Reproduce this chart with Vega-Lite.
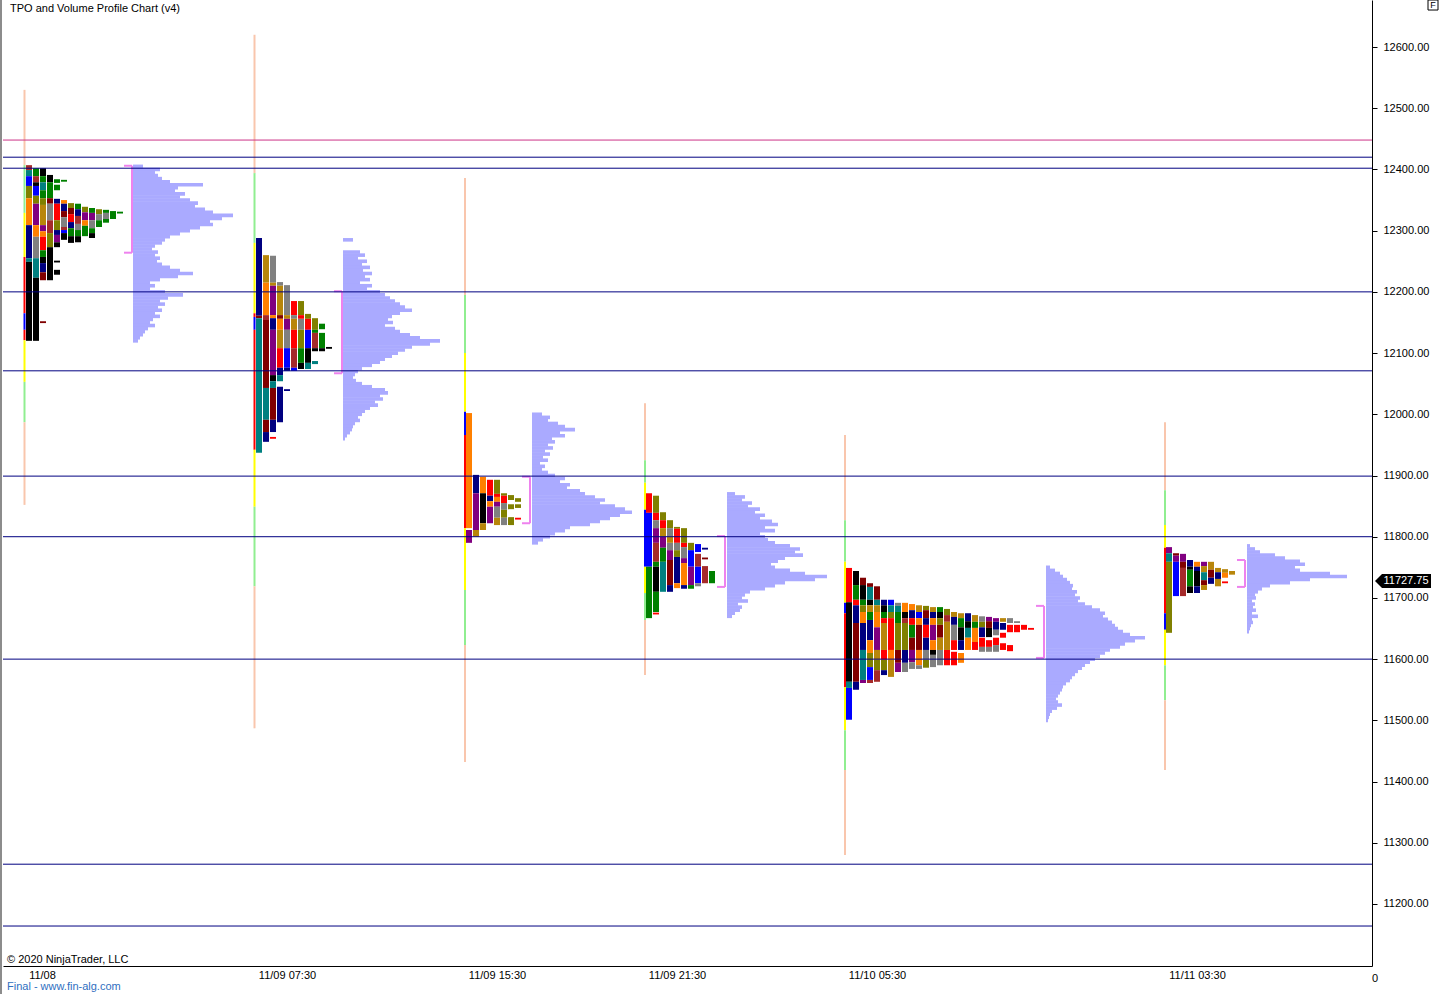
{
"$schema": "https://vega.github.io/schema/vega-lite/v6.json",
"width": 1369, "height": 966,
"autosize": "none",
"padding": {"left": 3, "top": 0, "right": 69, "bottom": 28},
"background": "#ffffff",
"config": {"view": {"stroke": null}, "font": "Liberation Sans", "scale": {"continuousPadding": 0}},
"resolve": {"scale": {"x": "independent"}},
"datasets": {
"levels": [
{"p":12448,"k":"Q"},{"p":12420,"k":"B"},{"p":12402,"k":"B"},{"p":12200,"k":"B"},{"p":12071,"k":"B"},{"p":11899,"k":"B"},{"p":11800,"k":"B"},{"p":11600,"k":"B"},{"p":11265,"k":"B"},{"p":11164,"k":"B"}
],
"rng": [
{"t":21.5,"p":12530,"p2":12407,"k":"P"},{"t":21.5,"p":12407,"p2":12329,"k":"O"},{"t":21.5,"p":12329,"p2":12257,"k":"N"},{"t":21.5,"p":12257,"p2":12165,"k":"I"},{"t":21.5,"p":12165,"p2":12138,"k":"C"},{"t":21.5,"p":12138,"p2":12121,"k":"I"},{"t":21.5,"p":12121,"p2":12053,"k":"N"},{"t":21.5,"p":12053,"p2":11987,"k":"O"},{"t":21.5,"p":11987,"p2":11852,"k":"P"},
{"t":251.5,"p":12620,"p2":12394,"k":"P"},{"t":251.5,"p":12394,"p2":12280,"k":"O"},{"t":251.5,"p":12280,"p2":12165,"k":"N"},{"t":251.5,"p":12165,"p2":12159,"k":"I"},{"t":251.5,"p":12159,"p2":12138,"k":"C"},{"t":251.5,"p":12138,"p2":11942,"k":"I"},{"t":251.5,"p":11942,"p2":11849,"k":"N"},{"t":251.5,"p":11849,"p2":11719,"k":"O"},{"t":251.5,"p":11719,"p2":11487,"k":"P"},
{"t":462,"p":12386,"p2":12195,"k":"P"},{"t":462,"p":12195,"p2":12100,"k":"O"},{"t":462,"p":12100,"p2":12004,"k":"N"},{"t":462,"p":12004,"p2":11966,"k":"C"},{"t":462,"p":11966,"p2":11814,"k":"I"},{"t":462,"p":11814,"p2":11713,"k":"N"},{"t":462,"p":11713,"p2":11623,"k":"O"},{"t":462,"p":11623,"p2":11432,"k":"P"},
{"t":642,"p":12018,"p2":11925,"k":"P"},{"t":642,"p":11925,"p2":11888,"k":"O"},{"t":642,"p":11888,"p2":11844,"k":"N"},{"t":642,"p":11844,"p2":11751,"k":"C"},{"t":642,"p":11751,"p2":11708,"k":"N"},{"t":642,"p":11708,"p2":11664,"k":"O"},{"t":642,"p":11664,"p2":11574,"k":"P"},
{"t":842,"p":11966,"p2":11827,"k":"P"},{"t":842,"p":11827,"p2":11759,"k":"O"},{"t":842,"p":11759,"p2":11692,"k":"N"},{"t":842,"p":11692,"p2":11675,"k":"C"},{"t":842,"p":11675,"p2":11554,"k":"I"},{"t":842,"p":11554,"p2":11484,"k":"N"},{"t":842,"p":11484,"p2":11419,"k":"O"},{"t":842,"p":11419,"p2":11280,"k":"P"},
{"t":1162,"p":11987,"p2":11876,"k":"P"},{"t":1162,"p":11876,"p2":11819,"k":"O"},{"t":1162,"p":11819,"p2":11782,"k":"N"},{"t":1162,"p":11782,"p2":11675,"k":"I"},{"t":1162,"p":11675,"p2":11648,"k":"C"},{"t":1162,"p":11648,"p2":11590,"k":"N"},{"t":1162,"p":11590,"p2":11533,"k":"O"},{"t":1162,"p":11533,"p2":11419,"k":"P"}
],
"tpo": [
{"t":26,"p":12407,"p2":12399,"k":"J"},{"t":26,"p":12399,"p2":12389,"k":"D"},{"t":26,"p":12389,"p2":12373,"k":"C"},{"t":26,"p":12373,"p2":12353,"k":"F"},{"t":26,"p":12353,"p2":12309,"k":"H"},{"t":26,"p":12309,"p2":12255,"k":"B"},{"t":26,"p":12255,"p2":12249,"k":"D"},{"t":26,"p":12249,"p2":12120,"k":"A"},
{"t":33,"p":12402,"p2":12389,"k":"E"},{"t":33,"p":12389,"p2":12379,"k":"J"},{"t":33,"p":12379,"p2":12373,"k":"A"},{"t":33,"p":12373,"p2":12357,"k":"C"},{"t":33,"p":12357,"p2":12344,"k":"F"},{"t":33,"p":12344,"p2":12309,"k":"L"},{"t":33,"p":12309,"p2":12290,"k":"H"},{"t":33,"p":12290,"p2":12255,"k":"M"},{"t":33,"p":12255,"p2":12223,"k":"D"},{"t":33,"p":12223,"p2":12120,"k":"A"},
{"t":40,"p":12402,"p2":12389,"k":"A"},{"t":40,"p":12389,"p2":12379,"k":"E"},{"t":40,"p":12379,"p2":12366,"k":"D"},{"t":40,"p":12366,"p2":12353,"k":"E"},{"t":40,"p":12353,"p2":12342,"k":"F"},{"t":40,"p":12342,"p2":12309,"k":"G"},{"t":40,"p":12309,"p2":12299,"k":"L"},{"t":40,"p":12299,"p2":12290,"k":"H"},{"t":40,"p":12290,"p2":12268,"k":"I"},{"t":40,"p":12268,"p2":12257,"k":"E"},{"t":40,"p":12257,"p2":12247,"k":"A"},{"t":40,"p":12247,"p2":12232,"k":"B"},{"t":40,"p":12232,"p2":12219,"k":"K"},{"t":40,"p":12152,"p2":12149,"k":"K"},
{"t":47,"p":12391,"p2":12379,"k":"A"},{"t":47,"p":12379,"p2":12353,"k":"E"},{"t":47,"p":12353,"p2":12344,"k":"K"},{"t":47,"p":12344,"p2":12317,"k":"M"},{"t":47,"p":12317,"p2":12296,"k":"J"},{"t":47,"p":12296,"p2":12273,"k":"F"},{"t":47,"p":12273,"p2":12219,"k":"A"},
{"t":54,"p":12384,"p2":12378,"k":"E"},{"t":54,"p":12375,"p2":12366,"k":"E"},{"t":54,"p":12352,"p2":12344,"k":"B"},{"t":54,"p":12344,"p2":12317,"k":"I"},{"t":54,"p":12317,"p2":12301,"k":"F"},{"t":54,"p":12301,"p2":12293,"k":"B"},{"t":54,"p":12293,"p2":12281,"k":"L"},{"t":54,"p":12281,"p2":12273,"k":"A"},{"t":54,"p":12251,"p2":12248,"k":"A"},{"t":54,"p":12236,"p2":12228,"k":"A"},
{"t":61,"p":12383,"p2":12380,"k":"E"},{"t":61,"p":12350,"p2":12344,"k":"H"},{"t":61,"p":12344,"p2":12332,"k":"B"},{"t":61,"p":12332,"p2":12322,"k":"K"},{"t":61,"p":12322,"p2":12306,"k":"M"},{"t":61,"p":12306,"p2":12301,"k":"J"},{"t":61,"p":12301,"p2":12296,"k":"C"},{"t":61,"p":12296,"p2":12285,"k":"A"},
{"t":68,"p":12345,"p2":12337,"k":"F"},{"t":68,"p":12337,"p2":12327,"k":"K"},{"t":68,"p":12327,"p2":12314,"k":"I"},{"t":68,"p":12314,"p2":12304,"k":"B"},{"t":68,"p":12304,"p2":12291,"k":"E"},{"t":68,"p":12291,"p2":12280,"k":"A"},
{"t":75,"p":12344,"p2":12335,"k":"E"},{"t":75,"p":12335,"p2":12324,"k":"B"},{"t":75,"p":12324,"p2":12311,"k":"J"},{"t":75,"p":12311,"p2":12301,"k":"M"},{"t":75,"p":12301,"p2":12291,"k":"E"},{"t":75,"p":12291,"p2":12281,"k":"A"},
{"t":82,"p":12339,"p2":12330,"k":"F"},{"t":82,"p":12330,"p2":12317,"k":"L"},{"t":82,"p":12317,"p2":12308,"k":"H"},{"t":82,"p":12308,"p2":12291,"k":"E"},
{"t":89,"p":12337,"p2":12329,"k":"E"},{"t":89,"p":12329,"p2":12317,"k":"L"},{"t":89,"p":12317,"p2":12304,"k":"M"},{"t":89,"p":12304,"p2":12296,"k":"E"},{"t":89,"p":12296,"p2":12288,"k":"A"},
{"t":96,"p":12335,"p2":12327,"k":"F"},{"t":96,"p":12327,"p2":12317,"k":"M"},{"t":96,"p":12317,"p2":12306,"k":"E"},
{"t":103,"p":12334,"p2":12329,"k":"E"},{"t":103,"p":12329,"p2":12319,"k":"M"},{"t":103,"p":12319,"p2":12313,"k":"E"},
{"t":110,"p":12332,"p2":12319,"k":"E"},{"t":117,"p":12331,"p2":12328,"k":"E"},
{"t":256,"p":12288,"p2":12161,"k":"B"},{"t":256,"p":12161,"p2":12157,"k":"K"},{"t":256,"p":12157,"p2":11937,"k":"D"},
{"t":263,"p":12260,"p2":12215,"k":"G"},{"t":263,"p":12215,"p2":12162,"k":"H"},{"t":263,"p":12162,"p2":12154,"k":"J"},{"t":263,"p":12154,"p2":12043,"k":"K"},{"t":263,"p":12043,"p2":11991,"k":"D"},{"t":263,"p":11991,"p2":11971,"k":"K"},{"t":263,"p":11971,"p2":11955,"k":"B"},
{"t":270,"p":12259,"p2":12215,"k":"M"},{"t":270,"p":12215,"p2":12210,"k":"G"},{"t":270,"p":12210,"p2":12162,"k":"L"},{"t":270,"p":12162,"p2":12157,"k":"H"},{"t":270,"p":12157,"p2":12138,"k":"B"},{"t":270,"p":12138,"p2":12064,"k":"L"},{"t":270,"p":12064,"p2":12054,"k":"A"},{"t":270,"p":12054,"p2":12043,"k":"D"},{"t":270,"p":12043,"p2":11991,"k":"K"},{"t":270,"p":11991,"p2":11971,"k":"B"},{"t":270,"p":11963,"p2":11960,"k":"I"},
{"t":277,"p":12216,"p2":12210,"k":"M"},{"t":277,"p":12210,"p2":12162,"k":"G"},{"t":277,"p":12162,"p2":12156,"k":"K"},{"t":277,"p":12156,"p2":12138,"k":"H"},{"t":277,"p":12138,"p2":12108,"k":"G"},{"t":277,"p":12108,"p2":12076,"k":"I"},{"t":277,"p":12076,"p2":12064,"k":"B"},{"t":277,"p":12064,"p2":12054,"k":"D"},{"t":277,"p":12045,"p2":11987,"k":"B"},
{"t":284,"p":12211,"p2":12162,"k":"M"},{"t":284,"p":12162,"p2":12156,"k":"G"},{"t":284,"p":12156,"p2":12138,"k":"L"},{"t":284,"p":12138,"p2":12108,"k":"M"},{"t":284,"p":12108,"p2":12076,"k":"C"},{"t":284,"p":12076,"p2":12071,"k":"B"},{"t":284,"p":12041,"p2":12038,"k":"B"},
{"t":291,"p":12185,"p2":12162,"k":"I"},{"t":291,"p":12162,"p2":12156,"k":"M"},{"t":291,"p":12156,"p2":12138,"k":"G"},{"t":291,"p":12138,"p2":12108,"k":"I"},{"t":291,"p":12108,"p2":12076,"k":"J"},{"t":291,"p":12076,"p2":12071,"k":"C"},
{"t":298,"p":12185,"p2":12162,"k":"F"},{"t":298,"p":12162,"p2":12156,"k":"I"},{"t":298,"p":12156,"p2":12138,"k":"M"},{"t":298,"p":12138,"p2":12108,"k":"F"},{"t":298,"p":12108,"p2":12084,"k":"E"},{"t":298,"p":12084,"p2":12074,"k":"A"},
{"t":305,"p":12164,"p2":12156,"k":"F"},{"t":305,"p":12156,"p2":12138,"k":"I"},{"t":305,"p":12138,"p2":12108,"k":"C"},{"t":305,"p":12108,"p2":12084,"k":"A"},{"t":305,"p":12084,"p2":12074,"k":"D"},
{"t":312,"p":12157,"p2":12138,"k":"F"},{"t":312,"p":12138,"p2":12133,"k":"E"},{"t":312,"p":12133,"p2":12108,"k":"J"},{"t":312,"p":12108,"p2":12103,"k":"A"},{"t":312,"p":12087,"p2":12082,"k":"D"},
{"t":319,"p":12148,"p2":12139,"k":"E"},{"t":319,"p":12133,"p2":12108,"k":"E"},{"t":319,"p":12108,"p2":12103,"k":"A"},
{"t":326,"p":12110,"p2":12107,"k":"A"},
{"t":466,"p":12002,"p2":11814,"k":"H"},{"t":466,"p":11811,"p2":11790,"k":"L"},
{"t":473,"p":11901,"p2":11871,"k":"B"},{"t":473,"p":11871,"p2":11811,"k":"L"},{"t":473,"p":11811,"p2":11800,"k":"G"},
{"t":480,"p":11898,"p2":11871,"k":"H"},{"t":480,"p":11871,"p2":11822,"k":"A"},{"t":480,"p":11822,"p2":11811,"k":"G"},
{"t":487,"p":11893,"p2":11867,"k":"I"},{"t":487,"p":11867,"p2":11858,"k":"B"},{"t":487,"p":11858,"p2":11849,"k":"H"},{"t":487,"p":11849,"p2":11822,"k":"L"},
{"t":494,"p":11893,"p2":11870,"k":"F"},{"t":494,"p":11870,"p2":11865,"k":"I"},{"t":494,"p":11865,"p2":11857,"k":"H"},{"t":494,"p":11857,"p2":11849,"k":"L"},{"t":494,"p":11849,"p2":11831,"k":"M"},{"t":494,"p":11831,"p2":11819,"k":"G"},
{"t":501,"p":11871,"p2":11867,"k":"F"},{"t":501,"p":11867,"p2":11855,"k":"I"},{"t":501,"p":11855,"p2":11844,"k":"M"},{"t":501,"p":11844,"p2":11831,"k":"F"},{"t":501,"p":11831,"p2":11819,"k":"M"},
{"t":508,"p":11868,"p2":11860,"k":"F"},{"t":508,"p":11853,"p2":11845,"k":"F"},{"t":508,"p":11832,"p2":11819,"k":"F"},
{"t":515,"p":11863,"p2":11857,"k":"F"},{"t":515,"p":11853,"p2":11847,"k":"F"},{"t":515,"p":11831,"p2":11828,"k":"I"},
{"t":646,"p":11871,"p2":11839,"k":"I"},{"t":646,"p":11839,"p2":11751,"k":"C"},{"t":646,"p":11751,"p2":11667,"k":"E"},
{"t":653,"p":11867,"p2":11839,"k":"F"},{"t":653,"p":11839,"p2":11827,"k":"I"},{"t":653,"p":11827,"p2":11814,"k":"M"},{"t":653,"p":11814,"p2":11790,"k":"L"},{"t":653,"p":11790,"p2":11759,"k":"J"},{"t":653,"p":11759,"p2":11751,"k":"E"},{"t":653,"p":11751,"p2":11710,"k":"A"},{"t":653,"p":11710,"p2":11677,"k":"E"},{"t":653,"p":11676,"p2":11673,"k":"I"},
{"t":660,"p":11840,"p2":11827,"k":"F"},{"t":660,"p":11827,"p2":11814,"k":"I"},{"t":660,"p":11814,"p2":11800,"k":"G"},{"t":660,"p":11800,"p2":11782,"k":"L"},{"t":660,"p":11782,"p2":11759,"k":"E"},{"t":660,"p":11759,"p2":11710,"k":"D"},
{"t":667,"p":11827,"p2":11814,"k":"F"},{"t":667,"p":11814,"p2":11800,"k":"M"},{"t":667,"p":11800,"p2":11790,"k":"G"},{"t":667,"p":11790,"p2":11778,"k":"M"},{"t":667,"p":11778,"p2":11762,"k":"L"},{"t":667,"p":11762,"p2":11721,"k":"K"},{"t":667,"p":11721,"p2":11710,"k":"B"},
{"t":674,"p":11816,"p2":11813,"k":"F"},{"t":674,"p":11813,"p2":11790,"k":"I"},{"t":674,"p":11790,"p2":11778,"k":"M"},{"t":674,"p":11778,"p2":11767,"k":"F"},{"t":674,"p":11767,"p2":11724,"k":"B"},{"t":674,"p":11724,"p2":11716,"k":"H"},
{"t":681,"p":11814,"p2":11790,"k":"F"},{"t":681,"p":11790,"p2":11783,"k":"I"},{"t":681,"p":11783,"p2":11765,"k":"M"},{"t":681,"p":11765,"p2":11757,"k":"L"},{"t":681,"p":11757,"p2":11721,"k":"H"},{"t":681,"p":11721,"p2":11715,"k":"B"},
{"t":688,"p":11790,"p2":11778,"k":"F"},{"t":688,"p":11778,"p2":11751,"k":"C"},{"t":688,"p":11751,"p2":11721,"k":"L"},{"t":688,"p":11721,"p2":11715,"k":"E"},
{"t":695,"p":11788,"p2":11775,"k":"C"},{"t":695,"p":11772,"p2":11751,"k":"J"},{"t":695,"p":11751,"p2":11724,"k":"C"},{"t":695,"p":11724,"p2":11719,"k":"M"},
{"t":702,"p":11782,"p2":11779,"k":"B"},{"t":702,"p":11766,"p2":11763,"k":"K"},{"t":702,"p":11752,"p2":11724,"k":"J"},
{"t":709,"p":11744,"p2":11724,"k":"E"},
{"t":846,"p":11749,"p2":11693,"k":"I"},{"t":846,"p":11693,"p2":11563,"k":"A"},{"t":846,"p":11563,"p2":11553,"k":"D"},{"t":846,"p":11553,"p2":11501,"k":"C"},
{"t":853,"p":11744,"p2":11721,"k":"A"},{"t":853,"p":11721,"p2":11697,"k":"E"},{"t":853,"p":11697,"p2":11688,"k":"I"},{"t":853,"p":11688,"p2":11659,"k":"B"},{"t":853,"p":11659,"p2":11563,"k":"K"},{"t":853,"p":11563,"p2":11550,"k":"B"},
{"t":860,"p":11733,"p2":11721,"k":"K"},{"t":860,"p":11721,"p2":11697,"k":"A"},{"t":860,"p":11697,"p2":11688,"k":"E"},{"t":860,"p":11688,"p2":11677,"k":"F"},{"t":860,"p":11677,"p2":11659,"k":"H"},{"t":860,"p":11659,"p2":11615,"k":"B"},{"t":860,"p":11615,"p2":11566,"k":"D"},{"t":860,"p":11566,"p2":11561,"k":"L"},
{"t":867,"p":11724,"p2":11718,"k":"K"},{"t":867,"p":11718,"p2":11697,"k":"D"},{"t":867,"p":11697,"p2":11688,"k":"A"},{"t":867,"p":11688,"p2":11677,"k":"G"},{"t":867,"p":11677,"p2":11664,"k":"E"},{"t":867,"p":11664,"p2":11631,"k":"B"},{"t":867,"p":11631,"p2":11610,"k":"H"},{"t":867,"p":11610,"p2":11587,"k":"F"},{"t":867,"p":11587,"p2":11566,"k":"C"},{"t":867,"p":11566,"p2":11561,"k":"J"},
{"t":874,"p":11719,"p2":11697,"k":"K"},{"t":874,"p":11697,"p2":11688,"k":"D"},{"t":874,"p":11688,"p2":11677,"k":"G"},{"t":874,"p":11677,"p2":11652,"k":"H"},{"t":874,"p":11652,"p2":11615,"k":"L"},{"t":874,"p":11615,"p2":11599,"k":"G"},{"t":874,"p":11599,"p2":11582,"k":"F"},{"t":874,"p":11582,"p2":11563,"k":"J"},
{"t":881,"p":11697,"p2":11688,"k":"B"},{"t":881,"p":11688,"p2":11677,"k":"A"},{"t":881,"p":11677,"p2":11667,"k":"E"},{"t":881,"p":11667,"p2":11659,"k":"I"},{"t":881,"p":11659,"p2":11615,"k":"G"},{"t":881,"p":11615,"p2":11599,"k":"I"},{"t":881,"p":11599,"p2":11582,"k":"F"},{"t":881,"p":11582,"p2":11574,"k":"B"},
{"t":888,"p":11697,"p2":11688,"k":"C"},{"t":888,"p":11688,"p2":11677,"k":"D"},{"t":888,"p":11677,"p2":11667,"k":"F"},{"t":888,"p":11667,"p2":11615,"k":"I"},{"t":888,"p":11615,"p2":11599,"k":"H"},{"t":888,"p":11599,"p2":11571,"k":"G"},
{"t":895,"p":11692,"p2":11687,"k":"M"},{"t":895,"p":11687,"p2":11677,"k":"D"},{"t":895,"p":11677,"p2":11659,"k":"E"},{"t":895,"p":11659,"p2":11615,"k":"F"},{"t":895,"p":11615,"p2":11594,"k":"K"},{"t":895,"p":11594,"p2":11579,"k":"L"},
{"t":902,"p":11692,"p2":11677,"k":"H"},{"t":902,"p":11677,"p2":11667,"k":"A"},{"t":902,"p":11667,"p2":11659,"k":"J"},{"t":902,"p":11659,"p2":11615,"k":"F"},{"t":902,"p":11615,"p2":11594,"k":"B"},{"t":902,"p":11594,"p2":11579,"k":"M"},
{"t":909,"p":11690,"p2":11680,"k":"H"},{"t":909,"p":11680,"p2":11667,"k":"B"},{"t":909,"p":11667,"p2":11656,"k":"I"},{"t":909,"p":11656,"p2":11635,"k":"E"},{"t":909,"p":11635,"p2":11615,"k":"K"},{"t":909,"p":11615,"p2":11595,"k":"L"},{"t":909,"p":11595,"p2":11584,"k":"M"},
{"t":916,"p":11688,"p2":11677,"k":"G"},{"t":916,"p":11677,"p2":11667,"k":"C"},{"t":916,"p":11667,"p2":11656,"k":"H"},{"t":916,"p":11656,"p2":11615,"k":"K"},{"t":916,"p":11615,"p2":11590,"k":"H"},{"t":916,"p":11590,"p2":11584,"k":"M"},
{"t":923,"p":11687,"p2":11680,"k":"F"},{"t":923,"p":11680,"p2":11667,"k":"K"},{"t":923,"p":11667,"p2":11656,"k":"B"},{"t":923,"p":11656,"p2":11635,"k":"I"},{"t":923,"p":11635,"p2":11615,"k":"B"},{"t":923,"p":11615,"p2":11599,"k":"M"},{"t":923,"p":11599,"p2":11586,"k":"F"},
{"t":930,"p":11685,"p2":11677,"k":"G"},{"t":930,"p":11677,"p2":11667,"k":"B"},{"t":930,"p":11667,"p2":11656,"k":"H"},{"t":930,"p":11656,"p2":11631,"k":"L"},{"t":930,"p":11631,"p2":11615,"k":"H"},{"t":930,"p":11615,"p2":11607,"k":"A"},{"t":930,"p":11607,"p2":11587,"k":"M"},
{"t":937,"p":11685,"p2":11677,"k":"E"},{"t":937,"p":11677,"p2":11667,"k":"A"},{"t":937,"p":11667,"p2":11656,"k":"F"},{"t":937,"p":11656,"p2":11635,"k":"K"},{"t":937,"p":11635,"p2":11615,"k":"G"},{"t":937,"p":11615,"p2":11590,"k":"M"},
{"t":944,"p":11682,"p2":11672,"k":"F"},{"t":944,"p":11672,"p2":11661,"k":"J"},{"t":944,"p":11661,"p2":11615,"k":"G"},{"t":944,"p":11615,"p2":11590,"k":"I"},
{"t":951,"p":11677,"p2":11669,"k":"G"},{"t":951,"p":11669,"p2":11656,"k":"B"},{"t":951,"p":11656,"p2":11631,"k":"M"},{"t":951,"p":11631,"p2":11615,"k":"I"},{"t":951,"p":11612,"p2":11590,"k":"I"},
{"t":958,"p":11675,"p2":11667,"k":"G"},{"t":958,"p":11667,"p2":11652,"k":"E"},{"t":958,"p":11652,"p2":11631,"k":"A"},{"t":958,"p":11631,"p2":11615,"k":"B"},{"t":958,"p":11610,"p2":11594,"k":"H"},
{"t":965,"p":11675,"p2":11662,"k":"B"},{"t":965,"p":11662,"p2":11651,"k":"A"},{"t":965,"p":11651,"p2":11635,"k":"D"},{"t":965,"p":11635,"p2":11615,"k":"H"},
{"t":972,"p":11672,"p2":11661,"k":"G"},{"t":972,"p":11661,"p2":11651,"k":"E"},{"t":972,"p":11651,"p2":11628,"k":"H"},{"t":972,"p":11628,"p2":11615,"k":"I"},
{"t":979,"p":11670,"p2":11661,"k":"M"},{"t":979,"p":11661,"p2":11652,"k":"F"},{"t":979,"p":11652,"p2":11636,"k":"B"},{"t":979,"p":11635,"p2":11620,"k":"I"},{"t":979,"p":11620,"p2":11612,"k":"M"},
{"t":986,"p":11669,"p2":11662,"k":"L"},{"t":986,"p":11662,"p2":11651,"k":"K"},{"t":986,"p":11651,"p2":11636,"k":"A"},{"t":986,"p":11631,"p2":11620,"k":"I"},{"t":986,"p":11620,"p2":11612,"k":"M"},
{"t":993,"p":11667,"p2":11661,"k":"L"},{"t":993,"p":11661,"p2":11648,"k":"B"},{"t":993,"p":11648,"p2":11639,"k":"M"},{"t":993,"p":11635,"p2":11623,"k":"I"},{"t":993,"p":11623,"p2":11612,"k":"M"},
{"t":1000,"p":11667,"p2":11661,"k":"G"},{"t":1000,"p":11659,"p2":11648,"k":"B"},{"t":1000,"p":11643,"p2":11635,"k":"I"},{"t":1000,"p":11626,"p2":11615,"k":"I"},
{"t":1007,"p":11667,"p2":11659,"k":"M"},{"t":1007,"p":11656,"p2":11644,"k":"I"},{"t":1007,"p":11623,"p2":11613,"k":"I"},
{"t":1014,"p":11662,"p2":11659,"k":"M"},{"t":1014,"p":11656,"p2":11644,"k":"I"},
{"t":1021,"p":11656,"p2":11648,"k":"I"},{"t":1028,"p":11651,"p2":11648,"k":"I"},
{"t":1166,"p":11783,"p2":11773,"k":"L"},{"t":1166,"p":11773,"p2":11759,"k":"D"},{"t":1166,"p":11759,"p2":11643,"k":"F"},
{"t":1173,"p":11773,"p2":11769,"k":"K"},{"t":1173,"p":11769,"p2":11759,"k":"L"},{"t":1173,"p":11759,"p2":11703,"k":"C"},
{"t":1180,"p":11772,"p2":11759,"k":"L"},{"t":1180,"p":11759,"p2":11749,"k":"K"},{"t":1180,"p":11749,"p2":11703,"k":"J"},
{"t":1187,"p":11762,"p2":11751,"k":"B"},{"t":1187,"p":11751,"p2":11746,"k":"A"},{"t":1187,"p":11746,"p2":11719,"k":"E"},{"t":1187,"p":11719,"p2":11708,"k":"A"},
{"t":1194,"p":11759,"p2":11751,"k":"H"},{"t":1194,"p":11751,"p2":11744,"k":"B"},{"t":1194,"p":11744,"p2":11719,"k":"A"},{"t":1194,"p":11719,"p2":11708,"k":"B"},
{"t":1201,"p":11759,"p2":11752,"k":"L"},{"t":1201,"p":11752,"p2":11742,"k":"G"},{"t":1201,"p":11742,"p2":11729,"k":"D"},{"t":1201,"p":11729,"p2":11721,"k":"K"},{"t":1201,"p":11721,"p2":11713,"k":"G"},
{"t":1208,"p":11759,"p2":11746,"k":"G"},{"t":1208,"p":11746,"p2":11733,"k":"K"},{"t":1208,"p":11733,"p2":11723,"k":"B"},
{"t":1215,"p":11749,"p2":11742,"k":"G"},{"t":1215,"p":11742,"p2":11731,"k":"B"},{"t":1215,"p":11731,"p2":11719,"k":"G"},
{"t":1222,"p":11747,"p2":11741,"k":"G"},{"t":1222,"p":11741,"p2":11733,"k":"H"},{"t":1222,"p":11727,"p2":11724,"k":"I"},
{"t":1229,"p":11744,"p2":11738,"k":"G"}
],
"vol": [
{"s":1,"p":12405,"v":10},{"s":1,"p":12400,"v":27},{"s":1,"p":12395,"v":22},{"s":1,"p":12390,"v":25},{"s":1,"p":12385,"v":29},{"s":1,"p":12380,"v":37},{"s":1,"p":12375,"v":70},{"s":1,"p":12370,"v":45},{"s":1,"p":12365,"v":42},{"s":1,"p":12360,"v":52},{"s":1,"p":12355,"v":47},{"s":1,"p":12350,"v":57},{"s":1,"p":12345,"v":65},{"s":1,"p":12340,"v":62},{"s":1,"p":12335,"v":72},{"s":1,"p":12330,"v":80},{"s":1,"p":12325,"v":100},{"s":1,"p":12320,"v":89},{"s":1,"p":12315,"v":77},{"s":1,"p":12310,"v":80},{"s":1,"p":12305,"v":67},{"s":1,"p":12300,"v":57},{"s":1,"p":12295,"v":47},{"s":1,"p":12290,"v":37},{"s":1,"p":12285,"v":32},{"s":1,"p":12280,"v":29},{"s":1,"p":12275,"v":22},{"s":1,"p":12270,"v":19},{"s":1,"p":12265,"v":25},{"s":1,"p":12260,"v":22},{"s":1,"p":12255,"v":27},{"s":1,"p":12250,"v":24},{"s":1,"p":12245,"v":29},{"s":1,"p":12240,"v":37},{"s":1,"p":12235,"v":47},{"s":1,"p":12230,"v":60},{"s":1,"p":12225,"v":45},{"s":1,"p":12220,"v":27},{"s":1,"p":12215,"v":17},{"s":1,"p":12210,"v":22},{"s":1,"p":12205,"v":17},{"s":1,"p":12200,"v":32},{"s":1,"p":12195,"v":50},{"s":1,"p":12190,"v":35},{"s":1,"p":12185,"v":27},{"s":1,"p":12180,"v":32},{"s":1,"p":12175,"v":25},{"s":1,"p":12170,"v":29},{"s":1,"p":12165,"v":22},{"s":1,"p":12160,"v":27},{"s":1,"p":12155,"v":20},{"s":1,"p":12150,"v":17},{"s":1,"p":12145,"v":22},{"s":1,"p":12140,"v":15},{"s":1,"p":12135,"v":12},{"s":1,"p":12130,"v":10},{"s":1,"p":12125,"v":7},{"s":1,"p":12120,"v":5},
{"s":2,"p":12285,"v":10},{"s":2,"p":12265,"v":17},{"s":2,"p":12260,"v":22},{"s":2,"p":12255,"v":15},{"s":2,"p":12250,"v":24},{"s":2,"p":12245,"v":19},{"s":2,"p":12240,"v":27},{"s":2,"p":12235,"v":20},{"s":2,"p":12230,"v":29},{"s":2,"p":12225,"v":22},{"s":2,"p":12220,"v":27},{"s":2,"p":12215,"v":17},{"s":2,"p":12210,"v":29},{"s":2,"p":12205,"v":24},{"s":2,"p":12200,"v":37},{"s":2,"p":12195,"v":42},{"s":2,"p":12190,"v":47},{"s":2,"p":12185,"v":52},{"s":2,"p":12180,"v":57},{"s":2,"p":12175,"v":62},{"s":2,"p":12170,"v":69},{"s":2,"p":12165,"v":57},{"s":2,"p":12160,"v":49},{"s":2,"p":12155,"v":45},{"s":2,"p":12150,"v":50},{"s":2,"p":12145,"v":42},{"s":2,"p":12140,"v":52},{"s":2,"p":12135,"v":57},{"s":2,"p":12130,"v":67},{"s":2,"p":12125,"v":77},{"s":2,"p":12120,"v":97},{"s":2,"p":12115,"v":87},{"s":2,"p":12110,"v":69},{"s":2,"p":12105,"v":62},{"s":2,"p":12100,"v":55},{"s":2,"p":12095,"v":49},{"s":2,"p":12090,"v":42},{"s":2,"p":12085,"v":37},{"s":2,"p":12080,"v":29},{"s":2,"p":12075,"v":19},{"s":2,"p":12070,"v":15},{"s":2,"p":12065,"v":12},{"s":2,"p":12060,"v":10},{"s":2,"p":12055,"v":13},{"s":2,"p":12050,"v":19},{"s":2,"p":12045,"v":29},{"s":2,"p":12040,"v":42},{"s":2,"p":12035,"v":45},{"s":2,"p":12030,"v":37},{"s":2,"p":12025,"v":40},{"s":2,"p":12020,"v":32},{"s":2,"p":12015,"v":35},{"s":2,"p":12010,"v":27},{"s":2,"p":12005,"v":22},{"s":2,"p":12000,"v":19},{"s":2,"p":11995,"v":15},{"s":2,"p":11990,"v":17},{"s":2,"p":11985,"v":12},{"s":2,"p":11980,"v":10},{"s":2,"p":11975,"v":9},{"s":2,"p":11970,"v":7},{"s":2,"p":11965,"v":4},{"s":2,"p":11960,"v":2},
{"s":3,"p":12000,"v":10},{"s":3,"p":11995,"v":18},{"s":3,"p":11990,"v":16},{"s":3,"p":11985,"v":26},{"s":3,"p":11980,"v":33},{"s":3,"p":11975,"v":43},{"s":3,"p":11970,"v":28},{"s":3,"p":11965,"v":33},{"s":3,"p":11960,"v":20},{"s":3,"p":11955,"v":23},{"s":3,"p":11950,"v":16},{"s":3,"p":11945,"v":21},{"s":3,"p":11940,"v":13},{"s":3,"p":11935,"v":18},{"s":3,"p":11930,"v":11},{"s":3,"p":11925,"v":16},{"s":3,"p":11920,"v":8},{"s":3,"p":11915,"v":13},{"s":3,"p":11910,"v":10},{"s":3,"p":11905,"v":16},{"s":3,"p":11900,"v":23},{"s":3,"p":11895,"v":33},{"s":3,"p":11890,"v":28},{"s":3,"p":11885,"v":38},{"s":3,"p":11880,"v":35},{"s":3,"p":11875,"v":48},{"s":3,"p":11870,"v":53},{"s":3,"p":11865,"v":63},{"s":3,"p":11860,"v":73},{"s":3,"p":11855,"v":68},{"s":3,"p":11850,"v":83},{"s":3,"p":11845,"v":93},{"s":3,"p":11840,"v":100},{"s":3,"p":11835,"v":88},{"s":3,"p":11830,"v":78},{"s":3,"p":11825,"v":68},{"s":3,"p":11820,"v":58},{"s":3,"p":11815,"v":38},{"s":3,"p":11810,"v":33},{"s":3,"p":11805,"v":23},{"s":3,"p":11800,"v":18},{"s":3,"p":11795,"v":11},{"s":3,"p":11790,"v":6},
{"s":4,"p":11870,"v":8},{"s":4,"p":11865,"v":18},{"s":4,"p":11860,"v":15},{"s":4,"p":11855,"v":25},{"s":4,"p":11850,"v":21},{"s":4,"p":11845,"v":33},{"s":4,"p":11840,"v":28},{"s":4,"p":11835,"v":38},{"s":4,"p":11830,"v":33},{"s":4,"p":11825,"v":45},{"s":4,"p":11820,"v":51},{"s":4,"p":11815,"v":38},{"s":4,"p":11810,"v":48},{"s":4,"p":11805,"v":33},{"s":4,"p":11800,"v":38},{"s":4,"p":11795,"v":41},{"s":4,"p":11790,"v":48},{"s":4,"p":11785,"v":63},{"s":4,"p":11780,"v":73},{"s":4,"p":11775,"v":68},{"s":4,"p":11770,"v":76},{"s":4,"p":11765,"v":58},{"s":4,"p":11760,"v":51},{"s":4,"p":11755,"v":44},{"s":4,"p":11750,"v":48},{"s":4,"p":11745,"v":63},{"s":4,"p":11740,"v":78},{"s":4,"p":11735,"v":100},{"s":4,"p":11730,"v":88},{"s":4,"p":11725,"v":58},{"s":4,"p":11720,"v":48},{"s":4,"p":11715,"v":38},{"s":4,"p":11710,"v":23},{"s":4,"p":11705,"v":18},{"s":4,"p":11700,"v":15},{"s":4,"p":11695,"v":21},{"s":4,"p":11690,"v":11},{"s":4,"p":11685,"v":15},{"s":4,"p":11680,"v":13},{"s":4,"p":11675,"v":8},{"s":4,"p":11670,"v":5},
{"s":5,"p":11750,"v":4},{"s":5,"p":11745,"v":9},{"s":5,"p":11740,"v":14},{"s":5,"p":11735,"v":17},{"s":5,"p":11730,"v":21},{"s":5,"p":11725,"v":24},{"s":5,"p":11720,"v":27},{"s":5,"p":11715,"v":26},{"s":5,"p":11710,"v":31},{"s":5,"p":11705,"v":29},{"s":5,"p":11700,"v":34},{"s":5,"p":11695,"v":32},{"s":5,"p":11690,"v":39},{"s":5,"p":11685,"v":46},{"s":5,"p":11680,"v":54},{"s":5,"p":11675,"v":59},{"s":5,"p":11670,"v":57},{"s":5,"p":11665,"v":62},{"s":5,"p":11660,"v":66},{"s":5,"p":11655,"v":69},{"s":5,"p":11650,"v":72},{"s":5,"p":11645,"v":77},{"s":5,"p":11640,"v":84},{"s":5,"p":11635,"v":99},{"s":5,"p":11630,"v":89},{"s":5,"p":11625,"v":79},{"s":5,"p":11620,"v":74},{"s":5,"p":11615,"v":64},{"s":5,"p":11610,"v":59},{"s":5,"p":11605,"v":54},{"s":5,"p":11600,"v":49},{"s":5,"p":11595,"v":44},{"s":5,"p":11590,"v":39},{"s":5,"p":11585,"v":36},{"s":5,"p":11580,"v":32},{"s":5,"p":11575,"v":29},{"s":5,"p":11570,"v":26},{"s":5,"p":11565,"v":24},{"s":5,"p":11560,"v":20},{"s":5,"p":11555,"v":17},{"s":5,"p":11550,"v":16},{"s":5,"p":11545,"v":14},{"s":5,"p":11540,"v":12},{"s":5,"p":11535,"v":10},{"s":5,"p":11530,"v":12},{"s":5,"p":11525,"v":16},{"s":5,"p":11520,"v":11},{"s":5,"p":11515,"v":6},{"s":5,"p":11510,"v":4},{"s":5,"p":11505,"v":3},{"s":5,"p":11500,"v":2},
{"s":6,"p":11785,"v":3},{"s":6,"p":11780,"v":8},{"s":6,"p":11775,"v":13},{"s":6,"p":11770,"v":28},{"s":6,"p":11765,"v":38},{"s":6,"p":11760,"v":53},{"s":6,"p":11755,"v":58},{"s":6,"p":11750,"v":48},{"s":6,"p":11745,"v":53},{"s":6,"p":11740,"v":83},{"s":6,"p":11735,"v":100},{"s":6,"p":11730,"v":63},{"s":6,"p":11725,"v":43},{"s":6,"p":11720,"v":23},{"s":6,"p":11715,"v":15},{"s":6,"p":11710,"v":11},{"s":6,"p":11705,"v":8},{"s":6,"p":11700,"v":9},{"s":6,"p":11695,"v":5},{"s":6,"p":11690,"v":8},{"s":6,"p":11685,"v":6},{"s":6,"p":11680,"v":9},{"s":6,"p":11675,"v":5},{"s":6,"p":11670,"v":11},{"s":6,"p":11665,"v":5},{"s":6,"p":11660,"v":6},{"s":6,"p":11655,"v":4},{"s":6,"p":11650,"v":3},{"s":6,"p":11645,"v":2}
],
"va": [
{"t":129,"p":12406,"p2":12264},{"t":339,"p":12201,"p2":12067},{"t":527,"p":11898,"p2":11822},{"t":722,"p":11801,"p2":11718},{"t":1041,"p":11687,"p2":11602},{"t":1242,"p":11762,"p2":11718}
],
"last": [{"p": 11727.75}]
},
"layer": [
{"data": {"name": "rng"}, "mark": {"type": "bar", "orient": "vertical", "width": 2},
 "encoding": {
  "x": {"field": "t", "type": "quantitative", "scale": {"domain": [0, 1369], "nice": false, "zero": false, "padding": 0}, "axis": null},
  "y": {"field": "p", "type": "quantitative", "scale": {"domain": [11098.7, 12676.8], "nice": false, "zero": false, "padding": 0}, "axis": {"orient": "right", "values": [11200,11300,11400,11500,11600,11700,11800,11900,12000,12100,12200,12300,12400,12500,12600], "format": ".2f", "grid": false, "title": null, "tickSize": 5, "tickColor": "#000000", "domainColor": "#000000", "labelColor": "#000000", "labelFontSize": 11, "labelFont": "Liberation Sans", "labelPadding": 6, "labelOverlap": false, "labelBound": false, "labelFlush": false}},
  "y2": {"field": "p2"},
  "color": {"field": "k", "type": "nominal", "legend": null, "scale": {"domain": ["A","B","C","D","E","F","G","H","I","J","K","L","M","N","O","P","Q"], "range": ["#000000","#000080","#0000ff","#008080","#008000","#808000","#b8860b","#ff8000","#ff0000","#a52a2a","#800000","#800080","#808080","#ffff00","#90ee90","#f9c6ad","#cc3388"]}}
 }},
{"data": {"name": "tpo"}, "mark": {"type": "bar", "orient": "vertical", "width": 6},
 "encoding": {
  "x": {"field": "t", "type": "quantitative", "scale": {"domain": [0, 1369], "nice": false, "zero": false, "padding": 0},
   "axis": {"values": [39, 284, 494, 674, 874, 1194], "labelExpr": "datum.value == 39 ? '11/08' : datum.value == 284 ? '11/09 07:30' : datum.value == 494 ? '11/09 15:30' : datum.value == 674 ? '11/09 21:30' : datum.value == 874 ? '11/10 05:30' : '11/11 03:30'", "ticks": false, "grid": false, "title": null, "domainColor": "#000000", "domainWidth": 1, "labelColor": "#000000", "labelFontSize": 11, "labelFont": "Liberation Sans", "labelPadding": 3, "labelOverlap": false, "labelBound": false, "labelFlush": false}},
  "y": {"field": "p", "type": "quantitative", "scale": {"domain": [11098.7, 12676.8], "nice": false, "zero": false, "padding": 0}, "axis": {"orient": "right", "values": [11200,11300,11400,11500,11600,11700,11800,11900,12000,12100,12200,12300,12400,12500,12600], "format": ".2f", "grid": false, "title": null, "tickSize": 5, "tickColor": "#000000", "domainColor": "#000000", "labelColor": "#000000", "labelFontSize": 11, "labelFont": "Liberation Sans", "labelPadding": 6, "labelOverlap": false, "labelBound": false, "labelFlush": false}},
  "y2": {"field": "p2"},
  "color": {"field": "k", "type": "nominal", "legend": null, "scale": {"domain": ["A","B","C","D","E","F","G","H","I","J","K","L","M","N","O","P","Q"], "range": ["#000000","#000080","#0000ff","#008080","#008000","#808000","#b8860b","#ff8000","#ff0000","#a52a2a","#800000","#800080","#808080","#ffff00","#90ee90","#f9c6ad","#cc3388"]}}
 }},
{"data": {"name": "vol"}, "transform": [{"filter": "datum.s == 1"}], "mark": {"type": "bar", "orient": "horizontal", "height": 3.6, "color": "#aaaaff"},
 "encoding": {"x": {"field": "v", "type": "quantitative", "stack": null, "scale": {"domain": [-130, 1239], "nice": false, "padding": 0}, "axis": null},
  "y": {"field": "p", "type": "quantitative", "scale": {"domain": [11098.7, 12676.8], "nice": false, "zero": false, "padding": 0}, "axis": {"orient": "right", "values": [11200,11300,11400,11500,11600,11700,11800,11900,12000,12100,12200,12300,12400,12500,12600], "format": ".2f", "grid": false, "title": null, "tickSize": 5, "tickColor": "#000000", "domainColor": "#000000", "labelColor": "#000000", "labelFontSize": 11, "labelFont": "Liberation Sans", "labelPadding": 6, "labelOverlap": false, "labelBound": false, "labelFlush": false}}}},
{"data": {"name": "vol"}, "transform": [{"filter": "datum.s == 2"}], "mark": {"type": "bar", "orient": "horizontal", "height": 3.6, "color": "#aaaaff"},
 "encoding": {"x": {"field": "v", "type": "quantitative", "stack": null, "scale": {"domain": [-340, 1029], "nice": false, "padding": 0}, "axis": null},
  "y": {"field": "p", "type": "quantitative", "scale": {"domain": [11098.7, 12676.8], "nice": false, "zero": false, "padding": 0}, "axis": {"orient": "right", "values": [11200,11300,11400,11500,11600,11700,11800,11900,12000,12100,12200,12300,12400,12500,12600], "format": ".2f", "grid": false, "title": null, "tickSize": 5, "tickColor": "#000000", "domainColor": "#000000", "labelColor": "#000000", "labelFontSize": 11, "labelFont": "Liberation Sans", "labelPadding": 6, "labelOverlap": false, "labelBound": false, "labelFlush": false}}}},
{"data": {"name": "vol"}, "transform": [{"filter": "datum.s == 3"}], "mark": {"type": "bar", "orient": "horizontal", "height": 3.6, "color": "#aaaaff"},
 "encoding": {"x": {"field": "v", "type": "quantitative", "stack": null, "scale": {"domain": [-529, 840], "nice": false, "padding": 0}, "axis": null},
  "y": {"field": "p", "type": "quantitative", "scale": {"domain": [11098.7, 12676.8], "nice": false, "zero": false, "padding": 0}, "axis": {"orient": "right", "values": [11200,11300,11400,11500,11600,11700,11800,11900,12000,12100,12200,12300,12400,12500,12600], "format": ".2f", "grid": false, "title": null, "tickSize": 5, "tickColor": "#000000", "domainColor": "#000000", "labelColor": "#000000", "labelFontSize": 11, "labelFont": "Liberation Sans", "labelPadding": 6, "labelOverlap": false, "labelBound": false, "labelFlush": false}}}},
{"data": {"name": "vol"}, "transform": [{"filter": "datum.s == 4"}], "mark": {"type": "bar", "orient": "horizontal", "height": 3.6, "color": "#aaaaff"},
 "encoding": {"x": {"field": "v", "type": "quantitative", "stack": null, "scale": {"domain": [-724, 645], "nice": false, "padding": 0}, "axis": null},
  "y": {"field": "p", "type": "quantitative", "scale": {"domain": [11098.7, 12676.8], "nice": false, "zero": false, "padding": 0}, "axis": {"orient": "right", "values": [11200,11300,11400,11500,11600,11700,11800,11900,12000,12100,12200,12300,12400,12500,12600], "format": ".2f", "grid": false, "title": null, "tickSize": 5, "tickColor": "#000000", "domainColor": "#000000", "labelColor": "#000000", "labelFontSize": 11, "labelFont": "Liberation Sans", "labelPadding": 6, "labelOverlap": false, "labelBound": false, "labelFlush": false}}}},
{"data": {"name": "vol"}, "transform": [{"filter": "datum.s == 5"}], "mark": {"type": "bar", "orient": "horizontal", "height": 3.6, "color": "#aaaaff"},
 "encoding": {"x": {"field": "v", "type": "quantitative", "stack": null, "scale": {"domain": [-1043, 326], "nice": false, "padding": 0}, "axis": null},
  "y": {"field": "p", "type": "quantitative", "scale": {"domain": [11098.7, 12676.8], "nice": false, "zero": false, "padding": 0}, "axis": {"orient": "right", "values": [11200,11300,11400,11500,11600,11700,11800,11900,12000,12100,12200,12300,12400,12500,12600], "format": ".2f", "grid": false, "title": null, "tickSize": 5, "tickColor": "#000000", "domainColor": "#000000", "labelColor": "#000000", "labelFontSize": 11, "labelFont": "Liberation Sans", "labelPadding": 6, "labelOverlap": false, "labelBound": false, "labelFlush": false}}}},
{"data": {"name": "vol"}, "transform": [{"filter": "datum.s == 6"}], "mark": {"type": "bar", "orient": "horizontal", "height": 3.6, "color": "#aaaaff"},
 "encoding": {"x": {"field": "v", "type": "quantitative", "stack": null, "scale": {"domain": [-1244, 125], "nice": false, "padding": 0}, "axis": null},
  "y": {"field": "p", "type": "quantitative", "scale": {"domain": [11098.7, 12676.8], "nice": false, "zero": false, "padding": 0}, "axis": {"orient": "right", "values": [11200,11300,11400,11500,11600,11700,11800,11900,12000,12100,12200,12300,12400,12500,12600], "format": ".2f", "grid": false, "title": null, "tickSize": 5, "tickColor": "#000000", "domainColor": "#000000", "labelColor": "#000000", "labelFontSize": 11, "labelFont": "Liberation Sans", "labelPadding": 6, "labelOverlap": false, "labelBound": false, "labelFlush": false}}}},
{"data": {"name": "va"}, "mark": {"type": "rule", "color": "#ee82ee", "strokeWidth": 2},
 "encoding": {"x": {"field": "t", "type": "quantitative", "scale": {"domain": [0, 1369], "nice": false, "zero": false, "padding": 0}, "axis": null},
  "y": {"field": "p", "type": "quantitative", "scale": {"domain": [11098.7, 12676.8], "nice": false, "zero": false, "padding": 0}, "axis": {"orient": "right", "values": [11200,11300,11400,11500,11600,11700,11800,11900,12000,12100,12200,12300,12400,12500,12600], "format": ".2f", "grid": false, "title": null, "tickSize": 5, "tickColor": "#000000", "domainColor": "#000000", "labelColor": "#000000", "labelFontSize": 11, "labelFont": "Liberation Sans", "labelPadding": 6, "labelOverlap": false, "labelBound": false, "labelFlush": false}},
  "y2": {"field": "p2"}}},
{"data": {"name": "va"}, "mark": {"type": "rule", "color": "#ee82ee", "strokeWidth": 2, "xOffset": -8},
 "encoding": {"x": {"field": "t", "type": "quantitative", "scale": {"domain": [0, 1369], "nice": false, "zero": false, "padding": 0}, "axis": null},
  "x2": {"field": "t"},
  "y": {"field": "p", "type": "quantitative", "scale": {"domain": [11098.7, 12676.8], "nice": false, "zero": false, "padding": 0}, "axis": {"orient": "right", "values": [11200,11300,11400,11500,11600,11700,11800,11900,12000,12100,12200,12300,12400,12500,12600], "format": ".2f", "grid": false, "title": null, "tickSize": 5, "tickColor": "#000000", "domainColor": "#000000", "labelColor": "#000000", "labelFontSize": 11, "labelFont": "Liberation Sans", "labelPadding": 6, "labelOverlap": false, "labelBound": false, "labelFlush": false}}}},
{"data": {"name": "va"}, "mark": {"type": "rule", "color": "#ee82ee", "strokeWidth": 2, "xOffset": -8},
 "encoding": {"x": {"field": "t", "type": "quantitative", "scale": {"domain": [0, 1369], "nice": false, "zero": false, "padding": 0}, "axis": null},
  "x2": {"field": "t"},
  "y": {"field": "p2", "type": "quantitative", "scale": {"domain": [11098.7, 12676.8], "nice": false, "zero": false, "padding": 0}, "axis": {"orient": "right", "values": [11200,11300,11400,11500,11600,11700,11800,11900,12000,12100,12200,12300,12400,12500,12600], "format": ".2f", "grid": false, "title": null, "tickSize": 5, "tickColor": "#000000", "domainColor": "#000000", "labelColor": "#000000", "labelFontSize": 11, "labelFont": "Liberation Sans", "labelPadding": 6, "labelOverlap": false, "labelBound": false, "labelFlush": false}}}},
{"data": {"name": "levels"}, "mark": {"type": "rule", "strokeWidth": 1},
 "encoding": {
  "y": {"field": "p", "type": "quantitative", "scale": {"domain": [11098.7, 12676.8], "nice": false, "zero": false, "padding": 0}, "axis": {"orient": "right", "values": [11200,11300,11400,11500,11600,11700,11800,11900,12000,12100,12200,12300,12400,12500,12600], "format": ".2f", "grid": false, "title": null, "tickSize": 5, "tickColor": "#000000", "domainColor": "#000000", "labelColor": "#000000", "labelFontSize": 11, "labelFont": "Liberation Sans", "labelPadding": 6, "labelOverlap": false, "labelBound": false, "labelFlush": false}},
  "color": {"field": "k", "type": "nominal", "legend": null, "scale": {"domain": ["A","B","C","D","E","F","G","H","I","J","K","L","M","N","O","P","Q"], "range": ["#000000","#000080","#0000ff","#008080","#008000","#808000","#b8860b","#ff8000","#ff0000","#a52a2a","#800000","#800080","#808080","#ffff00","#90ee90","#f9c6ad","#cc3388"]}}
 }},
{"data": {"values": [{}]}, "mark": {"type": "rule", "color": "#8c8c8c", "strokeWidth": 2},
 "encoding": {"x": {"datum": -2, "type": "quantitative", "scale": {"domain": [0, 1369], "nice": false, "zero": false, "padding": 0}, "axis": null},
  "y": {"datum": 12676.8, "type": "quantitative", "scale": {"domain": [11098.7, 12676.8], "nice": false, "zero": false, "padding": 0}, "axis": {"orient": "right", "values": [11200,11300,11400,11500,11600,11700,11800,11900,12000,12100,12200,12300,12400,12500,12600], "format": ".2f", "grid": false, "title": null, "tickSize": 5, "tickColor": "#000000", "domainColor": "#000000", "labelColor": "#000000", "labelFontSize": 11, "labelFont": "Liberation Sans", "labelPadding": 6, "labelOverlap": false, "labelBound": false, "labelFlush": false}},
  "y2": {"datum": 11053}}},
{"data": {"values": [{}]}, "mark": {"type": "text", "align": "left", "baseline": "middle", "fontSize": 11, "font": "Liberation Sans", "color": "#000000"},
 "encoding": {"x": {"datum": 7, "type": "quantitative", "scale": {"domain": [0, 1369], "nice": false, "zero": false, "padding": 0}, "axis": null},
  "y": {"datum": 12662, "type": "quantitative", "scale": {"domain": [11098.7, 12676.8], "nice": false, "zero": false, "padding": 0}, "axis": {"orient": "right", "values": [11200,11300,11400,11500,11600,11700,11800,11900,12000,12100,12200,12300,12400,12500,12600], "format": ".2f", "grid": false, "title": null, "tickSize": 5, "tickColor": "#000000", "domainColor": "#000000", "labelColor": "#000000", "labelFontSize": 11, "labelFont": "Liberation Sans", "labelPadding": 6, "labelOverlap": false, "labelBound": false, "labelFlush": false}},
  "text": {"value": "TPO and Volume Profile Chart (v4)"}}},
{"data": {"values": [{}]}, "mark": {"type": "text", "align": "left", "baseline": "middle", "fontSize": 11, "font": "Liberation Sans", "color": "#000000"},
 "encoding": {"x": {"datum": 4, "type": "quantitative", "scale": {"domain": [0, 1369], "nice": false, "zero": false, "padding": 0}, "axis": null},
  "y": {"datum": 11108.4, "type": "quantitative", "scale": {"domain": [11098.7, 12676.8], "nice": false, "zero": false, "padding": 0}, "axis": {"orient": "right", "values": [11200,11300,11400,11500,11600,11700,11800,11900,12000,12100,12200,12300,12400,12500,12600], "format": ".2f", "grid": false, "title": null, "tickSize": 5, "tickColor": "#000000", "domainColor": "#000000", "labelColor": "#000000", "labelFontSize": 11, "labelFont": "Liberation Sans", "labelPadding": 6, "labelOverlap": false, "labelBound": false, "labelFlush": false}},
  "text": {"value": "© 2020 NinjaTrader, LLC"}}},
{"data": {"values": [{}]}, "mark": {"type": "text", "align": "left", "baseline": "middle", "fontSize": 11, "font": "Liberation Sans", "color": "#2f6fbf"},
 "encoding": {"x": {"datum": 4, "type": "quantitative", "scale": {"domain": [0, 1369], "nice": false, "zero": false, "padding": 0}, "axis": null},
  "y": {"datum": 11064, "type": "quantitative", "scale": {"domain": [11098.7, 12676.8], "nice": false, "zero": false, "padding": 0}, "axis": {"orient": "right", "values": [11200,11300,11400,11500,11600,11700,11800,11900,12000,12100,12200,12300,12400,12500,12600], "format": ".2f", "grid": false, "title": null, "tickSize": 5, "tickColor": "#000000", "domainColor": "#000000", "labelColor": "#000000", "labelFontSize": 11, "labelFont": "Liberation Sans", "labelPadding": 6, "labelOverlap": false, "labelBound": false, "labelFlush": false}},
  "text": {"value": "Final - www.fin-alg.com"}}},
{"data": {"values": [{}]}, "mark": {"type": "text", "align": "center", "baseline": "middle", "fontSize": 11, "font": "Liberation Sans", "color": "#000000"},
 "encoding": {"x": {"datum": 1372, "type": "quantitative", "scale": {"domain": [0, 1369], "nice": false, "zero": false, "padding": 0}, "axis": null},
  "y": {"datum": 11077.4, "type": "quantitative", "scale": {"domain": [11098.7, 12676.8], "nice": false, "zero": false, "padding": 0}, "axis": {"orient": "right", "values": [11200,11300,11400,11500,11600,11700,11800,11900,12000,12100,12200,12300,12400,12500,12600], "format": ".2f", "grid": false, "title": null, "tickSize": 5, "tickColor": "#000000", "domainColor": "#000000", "labelColor": "#000000", "labelFontSize": 11, "labelFont": "Liberation Sans", "labelPadding": 6, "labelOverlap": false, "labelBound": false, "labelFlush": false}},
  "text": {"value": "0"}}},
{"data": {"values": [{}]}, "mark": {"type": "point", "shape": "square", "size": 100, "filled": false, "fill": "#ffffff", "fillOpacity": 1, "stroke": "#000000", "strokeWidth": 1, "opacity": 1},
 "encoding": {"x": {"datum": 1430, "type": "quantitative", "scale": {"domain": [0, 1369], "nice": false, "zero": false, "padding": 0}, "axis": null},
  "y": {"datum": 12668.6, "type": "quantitative", "scale": {"domain": [11098.7, 12676.8], "nice": false, "zero": false, "padding": 0}, "axis": {"orient": "right", "values": [11200,11300,11400,11500,11600,11700,11800,11900,12000,12100,12200,12300,12400,12500,12600], "format": ".2f", "grid": false, "title": null, "tickSize": 5, "tickColor": "#000000", "domainColor": "#000000", "labelColor": "#000000", "labelFontSize": 11, "labelFont": "Liberation Sans", "labelPadding": 6, "labelOverlap": false, "labelBound": false, "labelFlush": false}}}},
{"data": {"values": [{}]}, "mark": {"type": "text", "align": "center", "baseline": "middle", "fontSize": 9, "font": "Liberation Sans", "color": "#000000"},
 "encoding": {"x": {"datum": 1430, "type": "quantitative", "scale": {"domain": [0, 1369], "nice": false, "zero": false, "padding": 0}, "axis": null},
  "y": {"datum": 12668.6, "type": "quantitative", "scale": {"domain": [11098.7, 12676.8], "nice": false, "zero": false, "padding": 0}, "axis": {"orient": "right", "values": [11200,11300,11400,11500,11600,11700,11800,11900,12000,12100,12200,12300,12400,12500,12600], "format": ".2f", "grid": false, "title": null, "tickSize": 5, "tickColor": "#000000", "domainColor": "#000000", "labelColor": "#000000", "labelFontSize": 11, "labelFont": "Liberation Sans", "labelPadding": 6, "labelOverlap": false, "labelBound": false, "labelFlush": false}},
  "text": {"value": "F"}}},
{"data": {"name": "last"}, "mark": {"type": "point", "shape": "M-4,0L-3,-1L4,-1L4,1L-3,1Z", "size": 196, "filled": true, "color": "#000000", "opacity": 1},
 "encoding": {"x": {"datum": 1400, "type": "quantitative", "scale": {"domain": [0, 1369], "nice": false, "zero": false, "padding": 0}, "axis": null},
  "y": {"field": "p", "type": "quantitative", "scale": {"domain": [11098.7, 12676.8], "nice": false, "zero": false, "padding": 0}, "axis": {"orient": "right", "values": [11200,11300,11400,11500,11600,11700,11800,11900,12000,12100,12200,12300,12400,12500,12600], "format": ".2f", "grid": false, "title": null, "tickSize": 5, "tickColor": "#000000", "domainColor": "#000000", "labelColor": "#000000", "labelFontSize": 11, "labelFont": "Liberation Sans", "labelPadding": 6, "labelOverlap": false, "labelBound": false, "labelFlush": false}}}},
{"data": {"name": "last"}, "mark": {"type": "text", "align": "center", "baseline": "middle", "fontSize": 11, "font": "Liberation Sans", "color": "#ffffff"},
 "encoding": {"x": {"datum": 1403, "type": "quantitative", "scale": {"domain": [0, 1369], "nice": false, "zero": false, "padding": 0}, "axis": null},
  "y": {"field": "p", "type": "quantitative", "scale": {"domain": [11098.7, 12676.8], "nice": false, "zero": false, "padding": 0}, "axis": {"orient": "right", "values": [11200,11300,11400,11500,11600,11700,11800,11900,12000,12100,12200,12300,12400,12500,12600], "format": ".2f", "grid": false, "title": null, "tickSize": 5, "tickColor": "#000000", "domainColor": "#000000", "labelColor": "#000000", "labelFontSize": 11, "labelFont": "Liberation Sans", "labelPadding": 6, "labelOverlap": false, "labelBound": false, "labelFlush": false}},
  "text": {"field": "p", "type": "quantitative", "format": ".2f"}}}
]
}
